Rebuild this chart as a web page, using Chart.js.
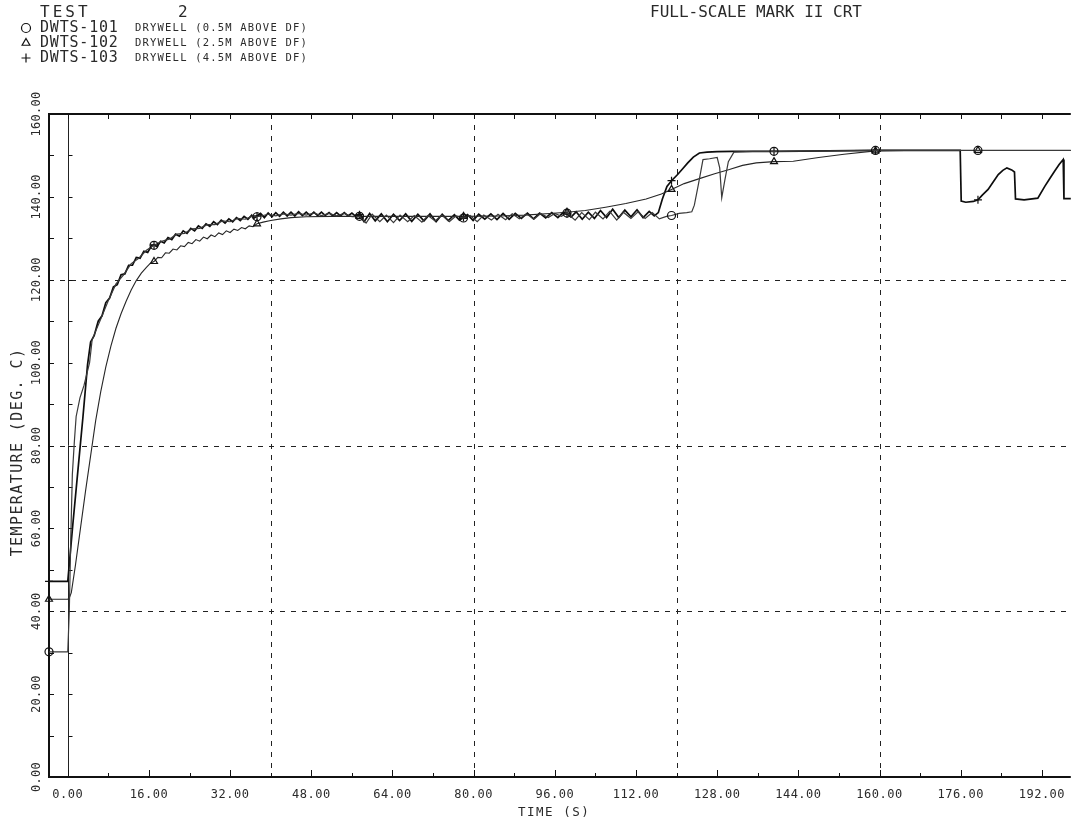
<!DOCTYPE html>
<html>
<head>
<meta charset="utf-8">
<script src="https://cdn.jsdelivr.net/npm/chart.js@4/dist/chart.umd.min.js"></script>
<style>
html, body { margin: 0; padding: 0; background: #fff; }
#wrap { width: 1076px; height: 818px; }
</style>
</head>
<body>
<div id="wrap"><canvas id="chart" width="1076" height="818"></canvas></div>
<script>
// ---- Test 2 drywell temperatures: time (s) and temperature (deg C) ----
const t101 = [-3.7, 0.0, 0.3, 0.6, 0.9, 1.3, 1.65, 2.4, 3.2, 4.3, 4.8, 5.5, 6.5, 8.0, 9.5, 11.0, 12.5, 14.0, 15.5, 17.0,
  18.5, 20.0, 21.5, 23.0, 24.5, 26.0, 27.5, 29.0, 30.5, 32.0, 33.5, 35.0, 36.2, 37.3, 38.5, 39.5, 41.0, 42.5, 44.0, 45.5,
  47.0, 48.5, 50.0, 51.5, 53.0, 54.5, 56.0, 57.5, 58.8, 60.0, 61.5, 62.8, 64.2, 65.5, 67.0, 68.3, 69.8, 71.0, 72.4, 73.7,
  75.2, 76.5, 78.0, 79.3, 80.7, 82.0, 83.5, 84.8, 86.3, 87.6, 89.0, 90.4, 91.9, 93.2, 94.7, 96.0, 97.3, 98.4, 100.0, 101.3,
  102.8, 104.0, 105.5, 106.8, 108.2, 109.5, 111.0, 112.4, 113.8, 115.2, 116.6, 118.0, 119.0, 120.5, 122.0, 123.0, 123.5, 124.3, 125.2, 126.5,
  128.0, 128.5, 128.9, 129.5, 130.2, 131.3, 135.0, 139.2, 150.0, 159.2, 170.0, 179.4, 197.7];
const v101 = [30.2, 30.2, 40, 58, 73, 81, 87, 91.5, 94.5, 100, 105.5, 107.6, 110.5, 115.0, 119.0, 121.2, 123.9, 125.2, 127.1, 128.3,
  129.3, 129.8, 131.0, 131.2, 132.3, 132.4, 133.3, 133.3, 134.2, 134.0, 134.8, 134.6, 135.3, 135.2, 135.5, 135.8, 135.4, 135.9, 135.6, 136.0,
  135.6, 136.1, 135.5, 136.0, 135.4, 136.0, 135.2, 135.3, 133.7, 135.8, 134.0, 135.6, 133.8, 135.6, 134.0, 135.5, 133.9, 135.5, 134.2, 135.6,
  134.0, 135.4, 134.9, 135.5, 134.0, 135.6, 134.4, 135.8, 134.5, 135.9, 134.7, 135.9, 134.6, 136.0, 135.0, 136.0, 135.3, 136.1, 134.4, 136.2,
  134.5, 136.3, 134.7, 136.5, 134.4, 136.3, 134.8, 136.4, 134.8, 136.2, 134.7, 135.3, 135.5, 136.0, 136.2, 136.4, 138.0, 143.0, 149.0, 149.2,
  149.5, 147.0, 139.8, 144.0, 148.5, 150.8, 151.0, 151.0, 151.1, 151.2, 151.2, 151.2, 151.2];

const t102 = [-3.7, 0.0, 0.3, 0.7, 1.5, 2.5, 3.5, 4.5, 5.5, 6.5, 7.5, 8.5, 9.5, 10.5, 11.5, 12.5, 13.5, 14.5, 15.5, 16.3,
  17.0, 17.75, 18.5, 19.25, 20.0, 20.75, 21.5, 22.25, 23.0, 23.75, 24.5, 25.25, 26.0, 26.75, 27.5, 28.25, 29.0, 29.75, 30.5, 31.25,
  32.0, 32.75, 33.5, 34.25, 35.0, 35.75, 36.5, 37.3, 38.5, 40.0, 42.0, 44.0, 47.0, 52.0, 57.5, 65.0, 72.0, 78.0, 85.0, 90.0,
  95.0, 98.4, 102.0, 106.0, 110.0, 114.0, 117.0, 119.0, 121.5, 124.5, 127.5, 130.4, 133.0, 135.7, 139.2, 143.0, 148.0, 153.0, 159.2, 165.0,
  179.4, 197.7];
const v102 = [42.9, 42.9, 43.2, 44.5, 51, 60, 69, 77.5, 86, 93, 99, 104, 108.3, 111.8, 114.8, 117.5, 119.8, 121.6, 123.0, 124.0,
  124.4, 125.4, 125.3, 126.5, 126.4, 127.4, 127.2, 128.2, 128.0, 129.0, 128.7, 129.7, 129.3, 130.3, 129.9, 130.8, 130.4, 131.3, 130.9, 131.8,
  131.4, 132.2, 131.9, 132.6, 132.3, 133.0, 132.8, 133.5, 133.9, 134.3, 134.7, 135.0, 135.2, 135.3, 135.3, 135.3, 135.3, 135.3, 135.4, 135.6,
  136.0, 136.3, 136.7, 137.5, 138.4, 139.5, 140.7, 141.8, 143.2, 144.4, 145.6, 146.6, 147.6, 148.2, 148.5, 148.6, 149.5, 150.3, 151.1, 151.2,
  151.2, 151.2];

const t103 = [-3.7, 0.0, 0.2, 1.0, 2.0, 3.0, 3.9, 4.5, 5.2, 6.0, 6.75, 7.5, 8.25, 9.0, 9.75, 10.5, 11.25, 12.0, 12.75, 13.5,
  14.25, 15.0, 15.75, 16.5, 17.0, 17.6, 18.3, 19.0, 19.75, 20.5, 21.25, 22.0, 22.75, 23.5, 24.25, 25.0, 25.75, 26.5, 27.25, 28.0,
  28.75, 29.5, 30.25, 31.0, 31.75, 32.5, 33.25, 34.0, 34.75, 35.5, 36.25, 36.6, 37.3, 38.0, 38.75, 39.5, 40.25, 41.0, 41.75, 42.5,
  43.25, 44.0, 44.75, 45.5, 46.25, 47.0, 47.75, 48.5, 49.25, 50.0, 50.75, 51.5, 52.25, 53.0, 53.75, 54.5, 55.25, 56.0, 56.75, 57.5,
  58.4, 59.5, 60.6, 61.8, 63.0, 64.2, 65.4, 66.6, 67.8, 69.0, 70.2, 71.4, 72.6, 73.8, 75.0, 76.2, 77.2, 78.0, 78.8, 79.9,
  81.0, 82.2, 83.4, 84.6, 85.8, 87.0, 88.2, 89.4, 90.6, 91.8, 93.0, 94.2, 95.4, 96.6, 97.6, 98.4, 99.2, 100.2, 101.4, 102.6,
  103.8, 105.0, 106.2, 107.4, 108.6, 109.8, 111.0, 112.2, 113.4, 114.6, 115.6, 116.4, 117.2, 118.1, 119.0, 120.2, 121.2, 122.2, 123.3, 124.5,
  126.0, 128.0, 131.0, 139.2, 150.0, 159.2, 175.9, 176.1, 177.0, 178.5, 179.4, 180.3, 181.4, 182.4, 183.4, 184.3, 185.1, 186.05, 186.6, 186.8,
  188.5, 191.2, 192.6, 193.6, 194.5, 195.4, 196.2, 196.35, 197.7];
const v103 = [47.2, 47.2, 50, 61, 74, 87, 99.5, 105, 106.5, 110.0, 111.3, 114.5, 115.6, 118.3, 118.8, 121.2, 121.4, 123.5, 123.5, 125.4,
  125.2, 126.9, 126.6, 128.2, 128.4, 128.0, 129.3, 128.9, 130.2, 129.7, 131.0, 130.5, 131.8, 131.2, 132.4, 131.8, 133.0, 132.4, 133.5, 132.9,
  134.0, 133.3, 134.4, 133.7, 134.7, 134.0, 135.0, 134.3, 135.3, 134.6, 135.6, 134.8, 135.4, 136.0, 135.0, 136.1, 135.2, 136.2, 135.3, 136.3,
  135.4, 136.3, 135.4, 136.4, 135.5, 136.3, 135.5, 136.3, 135.5, 136.3, 135.5, 136.2, 135.4, 136.2, 135.4, 136.2, 135.4, 136.1, 135.3, 135.7,
  134.0, 136.0, 134.2, 135.9, 134.0, 135.8, 134.3, 135.9, 134.1, 135.8, 134.2, 135.9, 134.0, 135.8, 134.3, 135.7, 134.4, 135.0, 135.7, 134.3,
  135.8, 134.6, 135.9, 134.5, 136.0, 134.6, 136.0, 134.8, 136.1, 134.7, 136.1, 134.9, 136.2, 135.0, 136.2, 135.9, 135.1, 136.4, 134.6, 136.3,
  134.8, 136.7, 135.0, 137.0, 135.0, 136.8, 135.2, 136.9, 135.0, 136.5, 135.4, 136.2, 139.5, 142.5, 143.9, 145.4, 146.8, 148.2, 149.6, 150.6,
  150.8, 150.9, 151.0, 151.0, 151.1, 151.2, 151.2, 139.0, 138.7, 138.9, 139.3, 140.5, 141.8, 143.6, 145.4, 146.4, 147.0, 146.5, 146.0, 139.5,
  139.3, 139.7, 142.6, 144.5, 146.2, 147.8, 149.0, 139.6, 139.6];

// Symbol positions along each trace (s)
const markerTimes = [-3.7, 17.0, 37.3, 57.5, 78.0, 98.4, 119.0, 139.2, 159.2, 179.4];

// Axis ticks, grid and text
const xTickValues = [0, 16, 32, 48, 64, 80, 96, 112, 128, 144, 160, 176, 192];
const xTickLabels = ['0.00', '16.00', '32.00', '48.00', '64.00', '80.00', '96.00', '112.00', '128.00', '144.00', '160.00', '176.00', '192.00'];
const yTickValues = [0, 20, 40, 60, 80, 100, 120, 140, 160];
const yTickLabels = ['0.00', '20.00', '40.00', '60.00', '80.00', '100.00', '120.00', '140.00', '160.00'];
const xGridValues = [40, 80, 120, 160];
const yGridValues = [40, 80, 120];
const testLabel = ['TEST', '2'];
const plotTitle = 'FULL-SCALE MARK II CRT';
const seriesIds = ['DWTS-101', 'DWTS-102', 'DWTS-103'];
const seriesNotes = ['DRYWELL (0.5M ABOVE DF)', 'DRYWELL (2.5M ABOVE DF)', 'DRYWELL (4.5M ABOVE DF)'];
const xTitle = 'TIME (S)';
const yTitle = 'TEMPERATURE (DEG. C)';

const PEN = '"DejaVu Sans Mono", "Liberation Mono", monospace';
const INK = '#2a2a2a';

function pairs(ts, vs) { return ts.map((t, i) => ({ x: t, y: vs[i] })); }

function marked(ctx) {
  const raw = ctx.raw;
  return raw && markerTimes.includes(raw.x) ? 4 : 0;
}

function series(label, ts, vs, style, color, width) {
  return {
    label,
    data: pairs(ts, vs),
    borderColor: color,
    borderWidth: width,
    pointStyle: style,
    pointRadius: marked,
    pointHoverRadius: marked,
    pointBorderColor: '#111',
    pointBackgroundColor: 'rgba(255,255,255,0)',
    pointBorderWidth: 1.2,
    tension: 0,
    clip: false
  };
}

function penText(ctx, str, x, y, size, opt) {
  opt = opt || {};
  ctx.save();
  ctx.font = size + 'px ' + PEN;
  ctx.fillStyle = opt.color || INK;
  ctx.letterSpacing = (opt.spacing || 0) + 'px';
  ctx.textAlign = opt.align || 'left';
  ctx.textBaseline = opt.baseline || 'middle';
  ctx.translate(x, y);
  if (opt.rotate) ctx.rotate(opt.rotate);
  ctx.fillText(str, 0, 0);
  ctx.restore();
}

function seg(ctx, x1, y1, x2, y2) {
  ctx.beginPath();
  ctx.moveTo(x1, y1);
  ctx.lineTo(x2, y2);
  ctx.stroke();
}

const plotterFrame = {
  id: 'plotterFrame',
  beforeDatasetsDraw(chart) {
    const { ctx, chartArea: a, scales: { x, y } } = chart;
    ctx.save();
    ctx.strokeStyle = '#222';
    ctx.lineWidth = 1;
    ctx.setLineDash([5, 6]);
    yGridValues.forEach(v => {
      const py = Math.round(y.getPixelForValue(v)) + 0.5;
      seg(ctx, a.left, py, a.right, py);
    });
    xGridValues.forEach(v => {
      const px = Math.round(x.getPixelForValue(v)) + 0.5;
      seg(ctx, px, a.top, px, a.bottom);
    });
    ctx.setLineDash([]);
    // time-zero line
    const x0 = Math.round(x.getPixelForValue(0)) + 0.5;
    seg(ctx, x0, a.top, x0, a.bottom);
    // frame
    ctx.strokeStyle = '#111';
    ctx.lineWidth = 2;
    seg(ctx, a.left, a.top, a.right, a.top);
    seg(ctx, a.left, a.top - 1, a.left, a.bottom + 1);
    seg(ctx, a.left, a.bottom, a.right, a.bottom);
    // tick marks
    ctx.lineWidth = 1;
    for (let v = 0; v <= 200; v += 8) {
      const px = Math.round(x.getPixelForValue(v)) + 0.5;
      if (px > a.right) break;
      const len = v % 16 === 0 ? 7 : 4;
      seg(ctx, px, a.bottom, px, a.bottom - len);
      seg(ctx, px, a.top, px, a.top + 5);
    }
    for (let v = 0; v <= 160; v += 10) {
      const py = Math.round(y.getPixelForValue(v)) + 0.5;
      seg(ctx, a.left, py, a.left + 5, py);
      seg(ctx, x0, py, x0 + 4, py);
    }
    ctx.restore();
  },
  afterDraw(chart) {
    const { ctx, scales: { x, y } } = chart;
    // header
    penText(ctx, testLabel[0], 40, 13, 16, { spacing: 3 });
    penText(ctx, testLabel[1], 178, 13, 16);
    penText(ctx, plotTitle, 650, 13, 16, { spacing: 0 });
    // key
    const styles = ['circle', 'triangle', 'cross'];
    seriesIds.forEach((id, i) => {
      const cy = 28 + i * 15;
      ctx.save();
      ctx.strokeStyle = '#111';
      ctx.fillStyle = 'rgba(255,255,255,0)';
      ctx.lineWidth = 1.2;
      Chart.helpers.drawPoint(ctx, { pointStyle: styles[i], radius: 4.5, rotation: 0, borderWidth: 1.2 }, 26, cy);
      ctx.restore();
      penText(ctx, id, 40, cy, 15, { spacing: 0.8 });
      penText(ctx, seriesNotes[i], 135, cy, 10.5, { spacing: 1.2 });
    });
    // x tick labels
    xTickValues.forEach((v, i) => {
      penText(ctx, xTickLabels[i], x.getPixelForValue(v), 795, 12, { align: 'center', spacing: 0.5 });
    });
    penText(ctx, xTitle, 518, 813, 12.5, { spacing: 1.5 });
    // y tick labels
    yTickValues.forEach((v, i) => {
      penText(ctx, yTickLabels[i], 37, y.getPixelForValue(v), 12, { align: 'center', rotate: -Math.PI / 2, spacing: 0.3 });
    });
    penText(ctx, yTitle, 18, 452, 15, { align: 'center', rotate: -Math.PI / 2, spacing: 1.4 });
  }
};

new Chart(document.getElementById('chart'), {
  type: 'line',
  data: {
    datasets: [
      series('DWTS-101', t101, v101, 'circle', '#3a3a3a', 1.2),
      series('DWTS-102', t102, v102, 'triangle', '#262626', 1.1),
      series('DWTS-103', t103, v103, 'cross', '#0d0d0d', 1.7)
    ]
  },
  options: {
    responsive: false,
    animation: false,
    layout: { padding: { left: 49, right: 0, top: 114, bottom: 41 } },
    scales: {
      x: { type: 'linear', min: -3.7, max: 197.7, display: false },
      y: { type: 'linear', min: 0, max: 160, display: false }
    },
    plugins: { legend: { display: false }, tooltip: { enabled: false }, title: { display: false } }
  },
  plugins: [plotterFrame]
});
</script>
</body>
</html>
